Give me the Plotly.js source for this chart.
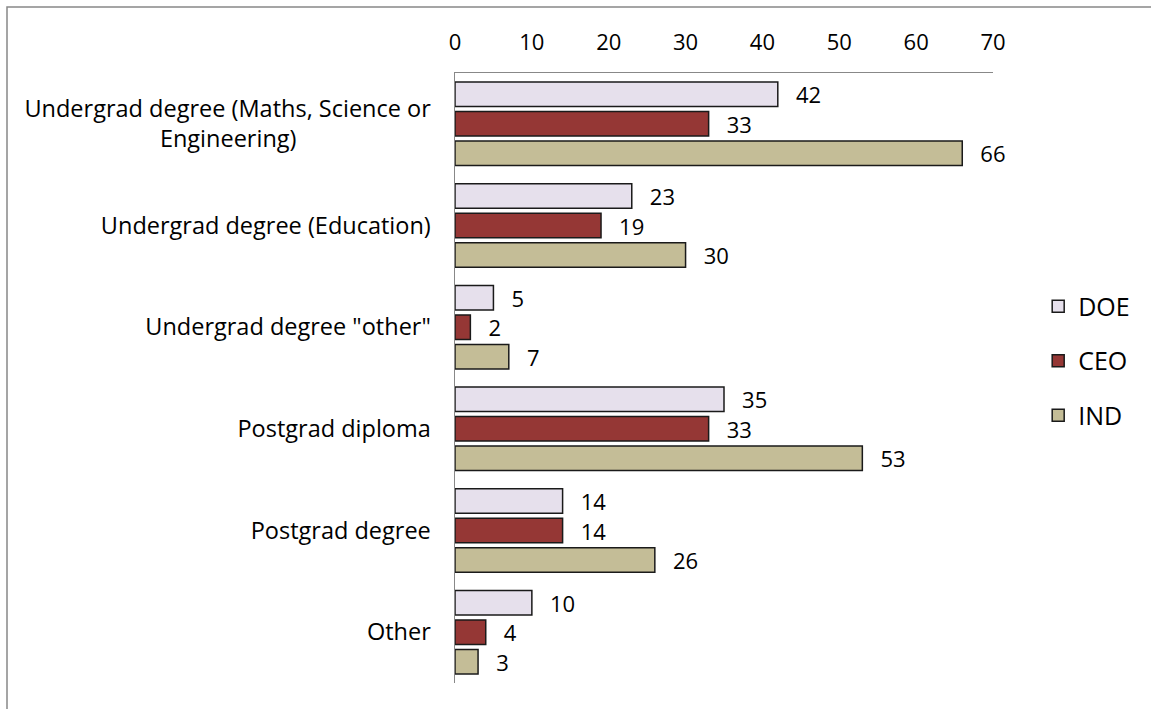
<!DOCTYPE html>
<html>
<head>
<meta charset="utf-8">
<script src="https://cdn.plot.ly/plotly-3.0.1.min.js"></script>
<style>
  html, body { margin: 0; padding: 0; background: #fff; }
  #chart { width: 1151px; height: 709px; }
</style>
</head>
<body>
<div id="chart"></div>
<script>
const pad = '\u00A0'.repeat(22);
const categories = [
  'Undergrad degree (Maths, Science or<br>Engineering)' + pad,
  'Undergrad degree (Education)',
  'Undergrad degree "other"',
  'Postgrad diploma',
  'Postgrad degree',
  'Other'
];
const seriesNames = ['DOE', 'CEO', 'IND'];
const doeValues = [42, 23, 5, 35, 14, 10];
const ceoValues = [33, 19, 2, 33, 14, 4];
const indValues = [66, 30, 7, 53, 26, 3];
const seriesColors = ['#E6E0EC', '#953735', '#C4BD97'];
const xTicks = [0, 10, 20, 30, 40, 50, 60, 70];

const font = "'Open Sans', 'Liberation Sans', sans-serif";
const allValues = [doeValues, ceoValues, indValues];

const traces = allValues.map((vals, i) => ({
  type: 'bar',
  orientation: 'h',
  name: seriesNames[i],
  y: categories,
  x: vals,
  legendgroup: seriesNames[i],
  marker: { color: seriesColors[i], line: { color: '#1a1a1a', width: 1.5 } },
  text: vals.map(v => '\u00A0\u00A0\u2009' + v),
  textposition: 'outside',
  textfont: { family: font, size: 22, color: '#000' },
  constraintext: 'none',
  cliponaxis: false,
  hoverinfo: 'x+name'
}));

const layout = {
  width: 1151,
  height: 709,
  paper_bgcolor: '#fff',
  plot_bgcolor: '#fff',
  margin: { l: 455, r: 158, t: 73, b: 26 },
  barmode: 'group',
  bargap: 0.13,
  bargroupgap: 0.17,
  font: { family: font, size: 22, color: '#000' },
  xaxis: {
    side: 'top',
    range: [0, 70],
    tickvals: xTicks,
    ticktext: xTicks.map(String),
    showgrid: false,
    zeroline: false,
    showline: true,
    linecolor: '#888',
    linewidth: 1.5,
    ticks: 'outside',
    ticklen: 13,
    tickcolor: 'rgba(0,0,0,0)',
    tickfont: { family: font, size: 22, color: '#000' }
  },
  yaxis: {
    autorange: 'reversed',
    showgrid: false,
    zeroline: false,
    showline: true,
    linecolor: '#888',
    linewidth: 1.5,
    ticks: 'outside',
    ticklen: 18,
    tickcolor: 'rgba(0,0,0,0)',
    tickfont: { family: font, size: 23.5, color: '#000' }
  },
  legend: {
    x: 1.084,
    xanchor: 'left',
    y: 0.528,
    yanchor: 'middle',
    traceorder: 'grouped',
    tracegroupgap: 19,
    font: { family: font, size: 25, color: '#000' },
    bgcolor: 'rgba(0,0,0,0)'
  },
  showlegend: true,
  shapes: [{
    type: 'rect',
    xref: 'paper', yref: 'paper',
    x0: (7 - 455) / 538, x1: 3,
    y0: -2, y1: (683 - 7) / 610,
    line: { color: '#888', width: 1.5 },
    fillcolor: 'rgba(0,0,0,0)',
    layer: 'below'
  }]
};

Plotly.newPlot('chart', traces, layout, { displayModeBar: false, staticPlot: true });
</script>
</body>
</html>
